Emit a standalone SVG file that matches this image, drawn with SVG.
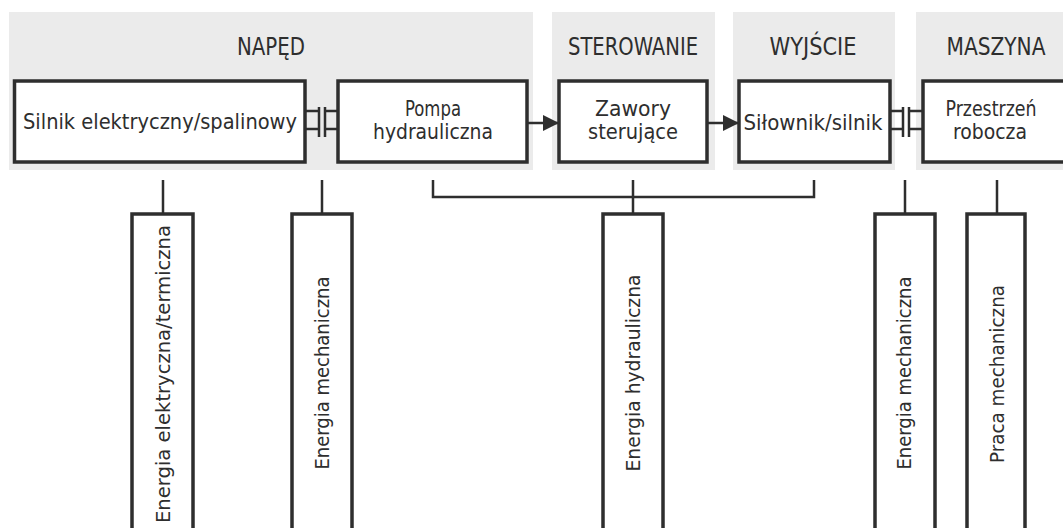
<svg xmlns="http://www.w3.org/2000/svg" width="1063" height="528" viewBox="0 0 1063 528">
<defs>
<style>
.panel{fill:#ebebeb}
.box{fill:#fff;stroke:#2e2e2e;stroke-width:3.5}
.ln{fill:none;stroke:#2e2e2e;stroke-width:2.5}
.t{font-family:"DejaVu Sans Condensed","DejaVu Sans","Liberation Sans",sans-serif;fill:#2e2e2e;text-anchor:middle;font-size:21px}
.h{font-size:24px}
.v{font-size:20px}
</style>
<marker id="arr" markerWidth="16" markerHeight="16" refX="16" refY="8" orient="auto" markerUnits="userSpaceOnUse">
<path d="M0,0 L16,8 L0,16 Z" fill="#2e2e2e"/>
</marker>
</defs>
<rect width="1063" height="528" fill="#fff"/>
<g id="panels">
<rect class="panel" x="9" y="12" width="524" height="158"/>
<rect class="panel" x="552" y="12" width="163" height="158"/>
<rect class="panel" x="733" y="12" width="162" height="158"/>
<rect class="panel" x="916" y="12" width="150" height="158"/>
<text class="t h" x="271" y="55" textLength="68" lengthAdjust="spacingAndGlyphs">NAPĘD</text>
<text class="t h" x="633" y="55" textLength="130" lengthAdjust="spacingAndGlyphs">STEROWANIE</text>
<text class="t h" x="813" y="55" textLength="87" lengthAdjust="spacingAndGlyphs">WYJŚCIE</text>
<text class="t h" x="996" y="55" textLength="99" lengthAdjust="spacingAndGlyphs">MASZYNA</text>
</g>
<g id="connectors">
<path class="ln" d="M305 111 H319 M305 129 H319 M325 111 H338 M325 129 H338 M319 107 V137 M325 107 V137"/>
<path class="ln" d="M890 111 H903 M890 129 H903 M909 111 H923 M909 129 H923 M903 107 V137 M909 107 V137"/>
<line class="ln" x1="527" y1="123" x2="559" y2="123" marker-end="url(#arr)"/>
<line class="ln" x1="707" y1="123" x2="739" y2="123" marker-end="url(#arr)"/>
<path class="ln" d="M433 180 V197 H814 V180"/>
<path class="ln" d="M163 180 V214 M322 180 V214 M633 180 V214 M905 180 V214 M997 180 V214"/>
</g>
<g id="n-silnik">
<rect class="box" x="14.5" y="81" width="290.5" height="81"/>
<text class="t" x="160" y="129" textLength="274" lengthAdjust="spacingAndGlyphs">Silnik elektryczny/spalinowy</text>
</g>
<g id="n-pompa">
<rect class="box" x="338" y="81" width="189" height="81"/>
<text class="t" x="433" y="116" textLength="56" lengthAdjust="spacingAndGlyphs">Pompa</text>
<text class="t" x="433" y="139" textLength="120" lengthAdjust="spacingAndGlyphs">hydrauliczna</text>
</g>
<g id="n-zawory">
<rect class="box" x="559" y="81" width="148" height="81"/>
<text class="t" x="633" y="116" textLength="76" lengthAdjust="spacingAndGlyphs">Zawory</text>
<text class="t" x="633" y="139" textLength="90" lengthAdjust="spacingAndGlyphs">sterujące</text>
</g>
<g id="n-silownik">
<rect class="box" x="739" y="81" width="151" height="81"/>
<text class="t" x="813" y="130" textLength="139" lengthAdjust="spacingAndGlyphs">Siłownik/silnik</text>
</g>
<g id="n-przestrzen">
<rect class="box" x="923" y="81" width="150" height="81"/>
<text class="t" x="991" y="116" textLength="91" lengthAdjust="spacingAndGlyphs">Przestrzeń</text>
<text class="t" x="990" y="139" textLength="74" lengthAdjust="spacingAndGlyphs">robocza</text>
</g>
<g id="n-e-elek">
<rect class="box" x="132" y="214" width="61" height="330"/>
<text class="t v" transform="translate(170,374) rotate(-90)" textLength="298" lengthAdjust="spacingAndGlyphs">Energia elektryczna/termiczna</text>
</g>
<g id="n-e-mech1">
<rect class="box" x="292" y="214" width="60" height="330"/>
<text class="t v" transform="translate(329,373) rotate(-90)" textLength="193" lengthAdjust="spacingAndGlyphs">Energia mechaniczna</text>
</g>
<g id="n-e-hydr">
<rect class="box" x="603" y="214" width="60" height="330"/>
<text class="t v" transform="translate(640,373) rotate(-90)" textLength="197" lengthAdjust="spacingAndGlyphs">Energia hydrauliczna</text>
</g>
<g id="n-e-mech2">
<rect class="box" x="875" y="214" width="60" height="330"/>
<text class="t v" transform="translate(911,373) rotate(-90)" textLength="193" lengthAdjust="spacingAndGlyphs">Energia mechaniczna</text>
</g>
<g id="n-praca">
<rect class="box" x="967" y="214" width="58" height="330"/>
<text class="t v" transform="translate(1004,374) rotate(-90)" textLength="178" lengthAdjust="spacingAndGlyphs">Praca mechaniczna</text>
</g>
</svg>
